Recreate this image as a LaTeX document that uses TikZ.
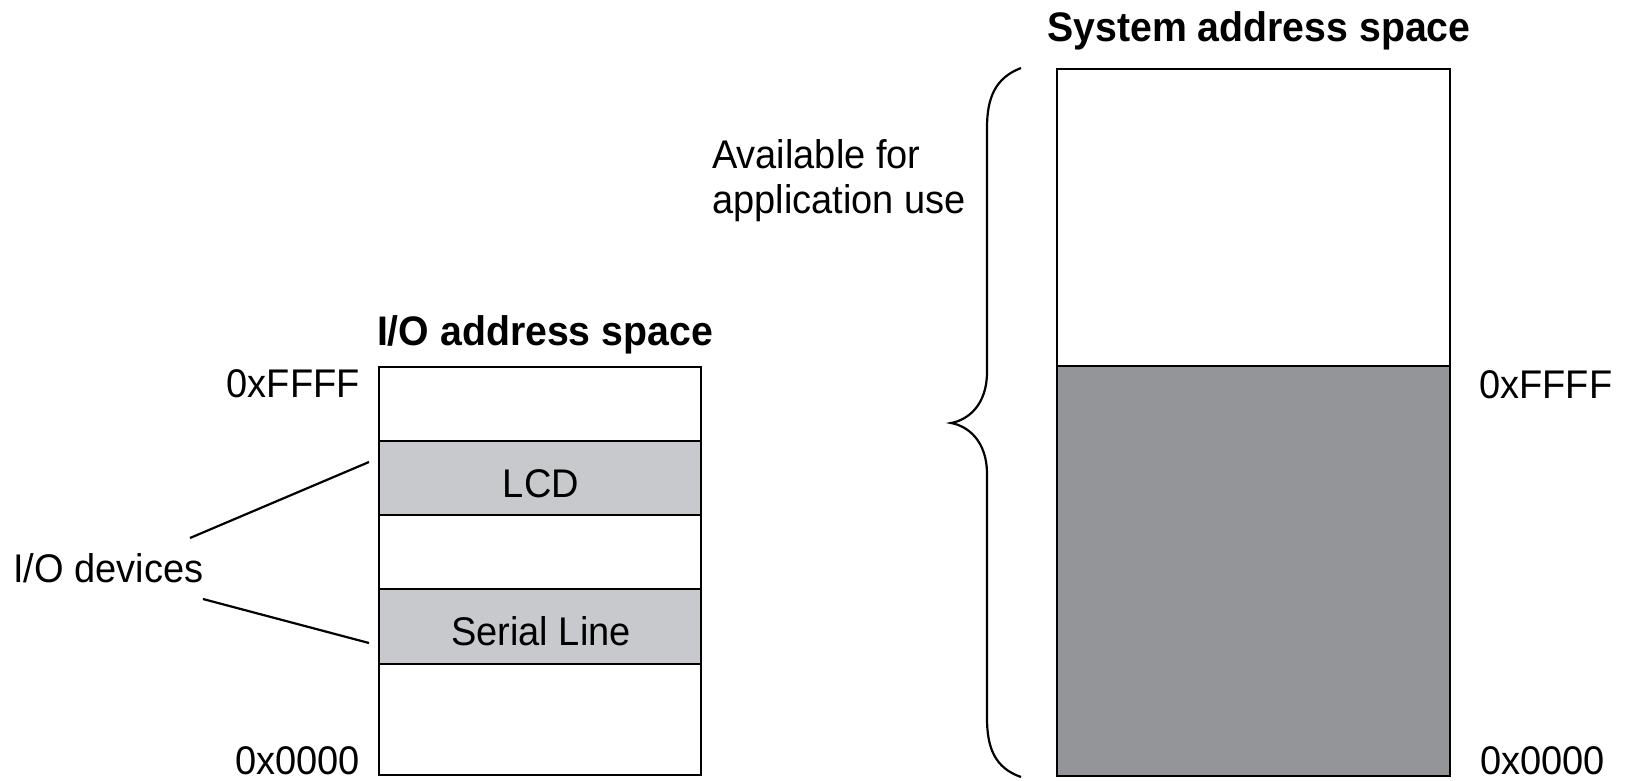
\documentclass[tikz,border=0pt]{standalone}
\usepackage{fontspec}
\setmainfont{Liberation Sans}[FakeStretch=0.95]
\definecolor{devgray}{HTML}{C8C9CC}
\definecolor{sysgray}{HTML}{949599}
\begin{document}
\begin{tikzpicture}[x=1pt,y=-1pt,
  reg/.style={font=\fontsize{40}{47}\selectfont, inner sep=0pt},
  ttl/.style={font=\bfseries\fontsize{41.3}{49}\selectfont, inner sep=0pt},
  mem/.style={draw=black, line width=2.4pt, inner sep=0pt, outer sep=0pt, rectangle},
  iomem/.style={mem, minimum width=322pt},
  sysmem/.style={mem, minimum width=393pt},
  conn/.style={draw=black, line width=2.2pt},
  bracepath/.style={draw=black, line width=2.2pt},
]
\useasboundingbox (0,0) rectangle (1625,780);
\fill[white] (0,0) rectangle (1625,780);

% I/O address space
\node[iomem, minimum height=74pt] (iotop) at (540,404) {};
\node[iomem, fill=devgray, minimum height=74pt] (lcd) at (540,478) {};
\node[iomem, minimum height=74pt] (iogap) at (540,552) {};
\node[iomem, fill=devgray, minimum height=75pt] (serial) at (540,626.5) {};
\node[iomem, minimum height=111pt] (iobot) at (540,719.5) {};

\node[reg, anchor=base] (lcdtxt) at (541,497) {LCD};
\node[reg, anchor=base] (sertxt) at (541,645) {Serial Line};
\node[ttl, anchor=base] (iottl) at (545,345) {I/O address space};
\node[reg, anchor=base east] (lffff) at (360,397) {0xFFFF};
\node[reg, anchor=base east] (l0000) at (360,774) {0x0000};

% I/O devices label and connectors
\node[reg, anchor=base west] (iodev) at (13,582) {I/O devices};
\coordinate (c1s) at (190,538);
\coordinate (c1e) at (369,462);
\coordinate (c2s) at (203,599);
\coordinate (c2e) at (369,643);
\draw[conn] (c1s) -- (c1e);
\draw[conn] (c2s) -- (c2e);

% System address space
\node[sysmem, minimum height=297pt] (app) at (1253.5,217.5) {};
\node[sysmem, fill=sysgray, minimum height=410pt] (sys) at (1253.5,571) {};
\node[ttl, anchor=base] (systtl) at (1259,41) {System address space};
\node[reg, anchor=base west] (rffff) at (1479,398) {0xFFFF};
\node[reg, anchor=base west] (r0000) at (1480,774) {0x0000};

% brace
\coordinate (btop) at (1021,68);
\coordinate (btip) at (951,423);
\coordinate (bbot) at (1021,777);
\draw[bracepath] (btop) .. controls (995,78) and (987,98) .. (987,128)
  -- (987,372) .. controls (987,405) and (968,420) .. (btip)
  .. controls (968,426) and (987,441) .. (987,474)
  -- (987,718) .. controls (987,748) and (995,768) .. (bbot);

\node[reg, anchor=base west] (avail1) at (712,168) {Available for};
\node[reg, anchor=base west] (avail2) at (712,213) {application use};
\end{tikzpicture}
\end{document}
